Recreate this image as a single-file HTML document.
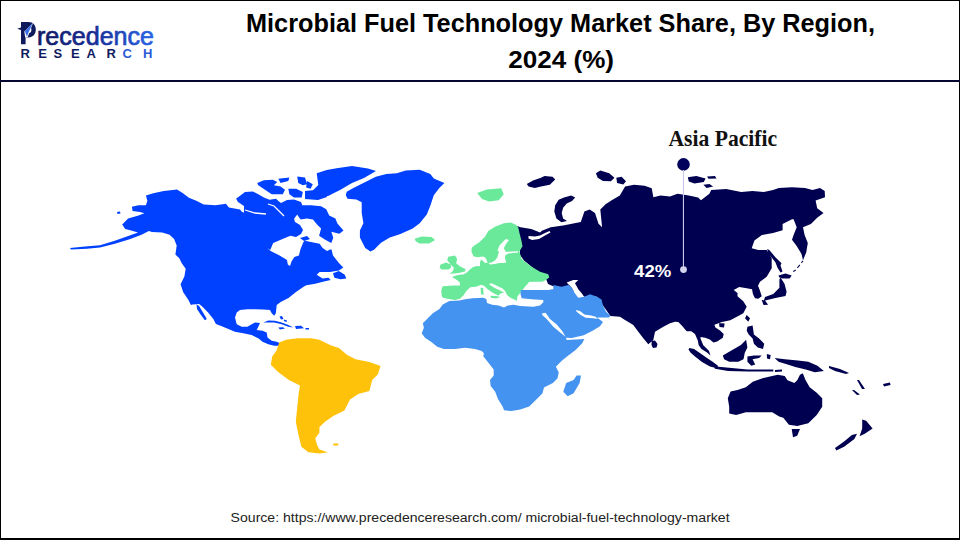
<!DOCTYPE html>
<html><head><meta charset="utf-8">
<style>
html,body{margin:0;padding:0;background:#fff;}
body{width:960px;height:540px;position:relative;overflow:hidden;font-family:"Liberation Sans",sans-serif;}
.frame{position:absolute;left:0;top:0;width:958px;height:537px;border:1px solid #000;border-bottom:2px solid #000;box-sizing:content-box;}
.hline{position:absolute;left:0;top:80px;width:960px;height:2px;background:#070632;}
svg{position:absolute;left:0;top:0;}
</style></head><body>
<div class="frame"></div>
<div class="hline"></div>
<svg width="960" height="540" viewBox="0 0 960 540" style="z-index:2">
<defs><linearGradient id="lg" x1="37" y1="0" x2="153" y2="0" gradientUnits="userSpaceOnUse"><stop offset="0" stop-color="#101a60"/><stop offset="0.45" stop-color="#142a90"/><stop offset="1" stop-color="#2a62e6"/></linearGradient></defs>
<path fill="#0f1a5c" fill-rule="evenodd" d="M21,22 H28.5 C33.5,22 35.8,25.5 35.8,29.8 C35.8,34 33,37.5 28.5,37.5 H25.6 V44.2 H21 Z M25.6,26.2 H28.3 C30.5,26.2 31.4,27.8 31.4,29.8 C31.4,31.8 30.5,33.4 28.3,33.4 H25.6 Z"/>
<path fill="#fff" d="M24.2,31 L33.2,22.6 L27.6,37.4 L25.2,37.4 Z"/>
<path fill="#0f1a5c" d="M17.2,28.7 L32.6,23.3 L24.6,31.2 Z"/>
<path fill="#3b6fe6" d="M24.8,31.2 L32.6,23.3 L26.9,36.6 Z"/>
<text x="37" y="44.6" font-family="Liberation Sans" font-size="25.5" fill="url(#lg)" stroke="url(#lg)" stroke-width="0.7" textLength="117" lengthAdjust="spacingAndGlyphs">recedence</text>
<g font-family="Liberation Sans" font-weight="bold" font-size="13" fill="#101a60">
<text x="20.6" y="58">R</text><text x="38.2" y="58">E</text><text x="53.5" y="58">S</text><text x="71.1" y="58">E</text><text x="86.5" y="58">A</text><text x="106.4" y="58">R</text><text x="122.6" y="58" fill="#2a5ad8">C</text><text x="143" y="58" fill="#2a5ad8">H</text>
</g>
<text x="246" y="31.7" font-family="Liberation Sans" font-weight="bold" font-size="26.5" fill="#000" textLength="629" lengthAdjust="spacingAndGlyphs">Microbial Fuel Technology Market Share, By Region,</text>
<text x="508.3" y="67.5" font-family="Liberation Sans" font-weight="bold" font-size="24.5" fill="#000" textLength="105.7" lengthAdjust="spacingAndGlyphs">2024 (%)</text>
<text x="230.6" y="521.7" font-family="Liberation Sans" font-size="12.5" fill="#222" textLength="499" lengthAdjust="spacingAndGlyphs">Source: https://www.precedenceresearch.com/ microbial-fuel-technology-market</text>
<text x="668.4" y="145.7" font-family="Liberation Serif" font-weight="bold" font-size="22.5" fill="#111" textLength="108.8" lengthAdjust="spacingAndGlyphs">Asia Pacific</text>
<circle cx="683.5" cy="164.4" r="6.3" fill="#02025c"/>
<rect x="682.9" y="170" width="1.1" height="99" fill="#c8c8ee"/>
<circle cx="683.5" cy="269.6" r="3.4" fill="#d4d4ee"/>
<text x="634.1" y="277.1" font-family="Liberation Sans" font-weight="bold" font-size="16.8" fill="#fff" textLength="37.2" lengthAdjust="spacingAndGlyphs">42%</text>
</svg>
<svg width="960" height="540" viewBox="0 0 960 540"><path fill="#000050" d="M517.0,226.0 520.6,227.3 531.2,229.1 540.1,232.6 541.9,230.8 550.7,227.3 563.1,225.5 572.0,223.7 580.8,222.0 584.4,211.4 589.7,209.6 595.0,213.1 598.5,223.7 602.1,227.3 600.3,209.6 605.6,204.3 610.9,200.7 619.8,195.4 625.1,186.6 634.0,184.8 644.6,185.7 651.7,188.3 653.4,197.2 660.5,195.4 670.0,196.6 677.5,193.8 688.8,195.6 698.1,197.5 701.0,200.3 709.4,193.8 711.2,190.0 726.2,189.0 741.2,191.9 752.5,191.0 763.8,191.9 773.1,190.0 778.8,188.1 791.9,187.2 805.0,188.1 812.5,190.0 820.0,188.1 824.7,191.0 825.0,197.3 815.6,200.4 817.2,208.3 823.5,213.0 817.2,217.8 810.9,224.0 803.0,227.2 804.6,235.1 807.8,242.9 806.2,252.4 803.0,260.2 801.5,253.9 796.7,246.1 792.0,239.8 793.6,235.1 796.7,227.2 793.6,219.3 792.0,219.3 782.6,224.0 782.6,230.3 773.1,233.1 761.9,235.0 754.4,240.6 751.7,248.3 758.3,250.0 766.7,250.0 771.7,258.3 771.7,268.3 766.7,276.7 760.0,281.7 758.0,285.8 759.7,290.0 761.7,296.3 758.3,298.7 755.0,298.3 753.0,294.2 752.0,289.2 746.7,288.3 739.2,287.0 733.7,290.0 737.5,293.0 737.5,296.3 743.3,301.3 746.7,306.7 743.3,313.3 738.3,316.0 730.2,320.2 721.9,322.0 714.4,324.8 715.4,327.6 720.0,330.4 723.7,334.1 722.8,337.8 717.2,341.5 713.5,342.4 709.8,339.6 705.2,337.8 700.6,336.9 700.6,338.7 703.3,345.2 708.9,350.7 710.5,355.4 707.0,352.6 701.5,348.9 698.7,345.2 697.8,340.6 695.0,334.1 691.3,331.3 686.7,331.3 682.0,325.7 678.3,322.0 675.0,321.7 670.0,323.3 663.3,326.7 655.0,331.7 653.3,340.0 648.3,344.2 643.3,338.3 638.3,331.7 633.3,325.0 625.0,320.0 620.0,316.7 610.4,315.9 603.0,305.6 597.0,296.7 583.7,296.7 570.0,289.0 555.0,287.0 548.0,284.0 545.0,276.0 537.0,271.0 531.9,267.1 524.0,260.5 520.0,255.0 520.0,245.0 518.5,233.0ZM555.2,205.2 558.7,199.8 564.0,197.5 571.1,195.4 575.2,197.5 572.0,201.1 566.7,203.4 563.1,207.8 561.7,213.1 563.1,218.4 567.0,221.1 561.4,222.3 556.4,218.4 554.3,211.4ZM526.8,183.9 533.0,180.4 541.0,177.7 544.5,175.9 552.5,176.8 555.2,179.5 549.8,184.8 541.0,186.6 534.8,188.0 528.6,186.6ZM595.9,173.3 600.3,170.6 609.2,173.3 614.5,177.7 610.9,181.3 603.0,180.9 597.7,177.7ZM616.3,177.7 621.6,176.8 626.0,181.3 623.3,184.4 617.1,183.0ZM687.8,177.3 696.3,175.9 705.6,178.4 703.8,182.1 694.4,183.4 688.8,181.6ZM707.1,176.5 715.0,176.1 716.5,178.4 708.4,178.8ZM703.4,184.8 709.4,184.0 713.1,186.6 706.6,188.1ZM793.0,271.0 795.5,269.5 796.0,270.5 793.5,272.0ZM797.0,267.5 799.5,264.5 800.3,265.3 797.8,268.3ZM801.0,262.5 802.5,260.5 803.3,261.2 801.8,263.2ZM767.2,249.1 769.3,250.1 775.4,257.2 781.5,263.3 780.5,265.4 782.5,271.5 780.5,272.5 777.4,267.4 775.4,262.3 768.2,253.1ZM778.4,275.5 785.5,273.5 791.7,275.5 789.6,278.6 782.5,278.6 779.4,277.6ZM780.5,277.6 784.5,283.7 786.6,291.8 785.5,295.9 775.4,298.0 765.2,300.5 763.5,302.0 765.0,297.0 773.3,293.9 779.4,287.8 779.4,279.6ZM761.7,300.0 765.0,300.5 768.1,304.8 763.5,305.0ZM746.7,315.0 750.0,318.3 748.3,321.7 745.0,318.3ZM719.0,323.0 724.6,323.5 724.0,327.6 719.5,327.0ZM651.7,341.0 655.0,340.5 657.5,344.0 656.5,347.5 653.0,348.0 651.5,345.0ZM689.4,348.0 694.0,348.9 700.6,353.5 707.0,358.1 713.0,362.0 718.3,366.0 716.0,368.0 710.0,366.5 702.0,362.0 695.0,356.5 690.5,352.5 688.5,349.5ZM713.3,366.2 734.4,368.3 747.4,369.6 773.3,369.6 773.3,371.6 747.4,371.6 728.0,370.9 715.0,368.8ZM722.8,355.4 731.8,350.2 740.9,345.0 746.1,339.8 747.4,347.6 744.8,352.8 743.5,359.2 738.3,361.8 729.3,361.8 724.1,359.2ZM747.4,356.6 753.9,355.4 761.7,355.4 759.1,357.9 752.6,359.2 755.2,364.4 751.3,365.7 747.4,361.8ZM766.8,354.1 770.7,355.0 770.0,359.2 767.0,358.5ZM747.4,326.8 752.6,325.5 753.9,334.6 759.1,338.5 764.2,343.7 763.0,348.9 757.8,347.6 753.9,343.7 752.6,338.5 748.7,334.6 746.7,330.7ZM775.0,370.0 782.0,369.5 782.0,371.5 775.0,372.0ZM774.6,357.9 785.0,359.2 797.9,360.5 808.3,361.8 817.4,365.7 823.9,370.9 814.8,372.2 805.7,369.6 795.3,367.0 787.6,364.4 778.5,361.8ZM727.8,398.3 730.6,391.4 737.5,390.0 745.8,387.2 752.8,381.7 762.5,378.2 772.2,376.1 777.8,374.7 784.7,376.1 787.5,380.3 794.4,383.1 797.2,380.3 800.0,374.7 802.8,373.3 805.6,380.3 809.7,387.2 816.7,392.8 822.2,398.3 822.2,406.7 816.7,415.0 808.3,423.3 797.2,426.1 788.9,424.7 783.3,417.8 779.2,416.4 772.2,412.2 759.7,412.2 745.8,412.2 736.1,415.0 729.2,413.6 729.2,406.7ZM791.7,428.9 800.0,428.9 797.2,435.8 793.0,437.2ZM862.2,419.4 866.1,420.7 872.6,428.5 864.8,433.7 859.6,436.3 862.2,428.5ZM857.0,433.7 854.4,438.9 844.1,446.7 836.3,450.6 835.0,448.0 844.1,441.5 851.9,435.0ZM829.0,366.0 840.0,369.0 849.0,373.0 846.0,374.0 835.0,371.0 829.0,368.0ZM857.0,380.0 859.0,380.0 865.0,389.0 862.0,389.0ZM852.0,390.0 854.0,390.0 860.0,394.5 857.0,395.0ZM883.0,384.0 890.0,382.5 890.5,385.0 884.0,386.5Z"/><path fill="#0040ff" d="M70.0,248.0 85.0,246.5 100.0,245.2 114.8,240.7 129.6,235.6 138.0,232.5 131.1,230.4 125.2,228.9 122.2,224.4 128.1,218.5 138.5,215.6 144.4,213.3 140.0,211.9 132.6,211.1 131.9,206.7 138.5,205.2 145.9,205.2 147.4,200.7 145.9,195.6 153.3,193.3 163.7,191.1 177.0,189.6 183.0,193.3 188.9,197.8 196.3,200.7 203.7,204.4 215.6,205.2 225.9,203.7 228.9,207.4 240.0,209.6 242.0,212.0 252.0,215.0 265.0,219.0 276.0,220.0 283.0,219.0 289.0,216.0 290.0,210.0 295.0,204.0 298.0,209.0 293.0,215.0 295.0,222.0 300.0,225.0 303.0,230.0 301.0,234.0 296.0,237.0 290.5,235.7 285.5,237.8 273.2,242.9 270.2,250.0 267.0,248.1 270.7,251.1 279.6,255.6 287.0,260.0 287.8,264.4 290.0,265.9 291.5,261.5 294.4,257.0 298.9,255.6 300.4,249.6 303.3,242.2 304.8,240.7 312.2,242.2 319.6,243.7 322.6,248.1 327.0,251.1 330.0,249.6 331.5,249.6 333.0,255.6 338.9,263.0 343.3,267.4 338.9,270.4 330.0,271.9 319.6,271.9 316.7,274.8 322.6,278.5 328.5,277.8 330.7,280.0 324.0,281.5 315.2,283.7 306.3,285.2 304.0,286.5 296.3,291.7 288.5,298.1 280.7,302.0 276.7,305.0 276.3,309.0 275.8,313.3 274.2,315.8 271.7,313.3 270.0,310.0 263.3,309.6 255.8,309.2 247.5,309.2 240.0,310.0 236.7,312.5 235.0,317.5 236.7,324.2 241.7,326.7 247.5,326.7 251.7,324.2 255.0,322.5 260.0,322.9 258.3,326.7 256.7,330.0 262.5,330.8 266.7,332.5 267.5,337.5 271.7,340.8 276.7,341.7 280.0,343.3 282.0,344.0 279.2,345.8 274.2,345.8 268.3,344.2 262.5,341.7 258.3,338.3 251.7,335.0 243.3,333.3 235.0,331.7 222.4,326.6 215.9,324.1 213.3,318.9 208.1,312.4 201.7,305.9 199.0,304.0 192.6,304.6 190.9,305.0 188.3,299.8 183.1,292.0 180.6,284.3 184.4,276.5 185.7,268.7 181.9,263.5 179.3,258.3 175.4,254.4 176.7,245.4 174.1,238.9 169.6,234.8 162.2,232.6 151.9,231.9 148.9,231.1 141.5,234.8 129.6,239.3 114.8,243.7 100.0,247.4 87.0,248.8 71.0,249.5ZM196.5,304.6 199.1,305.9 203.0,312.4 206.8,318.9 204.9,320.2 201.0,315.0 197.1,309.2ZM346.7,191.7 352.9,188.2 363.4,182.9 375.8,176.7 386.3,174.1 396.9,173.2 405.7,170.6 419.7,169.7 430.3,174.1 433.8,178.5 444.4,182.9 439.1,188.2 433.8,195.2 430.3,205.8 426.8,214.5 419.7,223.3 412.7,228.6 400.4,233.9 389.8,237.4 381.0,242.7 374.0,249.7 370.5,251.5 365.2,248.0 359.9,237.4 359.9,230.4 363.4,223.3 361.7,212.8 361.7,202.2 356.4,199.6 347.6,198.7 345.8,195.2ZM236.1,198.7 245.0,192.0 252.8,191.4 258.3,194.2 263.9,197.6 269.4,199.8 276.1,198.7 278.3,200.9 281.0,203.0 287.0,200.0 294.0,199.5 301.0,202.0 303.0,207.0 300.0,212.0 296.0,216.0 292.0,222.0 283.0,222.0 275.0,221.0 266.0,219.0 258.0,218.0 247.0,218.0 244.0,212.0 244.0,206.0 238.0,202.0ZM257.2,183.1 263.9,180.3 272.8,179.8 277.2,182.0 273.9,185.3 280.6,186.4 285.0,189.8 282.8,194.2 271.7,194.2 265.0,189.8 258.3,185.3ZM278.3,178.7 289.4,177.6 288.3,180.9 280.6,183.1ZM288.3,188.7 296.1,188.7 302.8,192.0 301.7,197.6 293.9,197.6 289.4,194.2ZM297.2,176.4 305.0,177.6 307.2,184.2 302.8,185.3 298.3,183.1ZM307.2,180.9 312.8,184.2 310.6,188.7 306.1,187.6ZM305.0,191.0 315.0,190.0 325.0,191.0 327.0,197.0 318.0,200.0 305.0,199.0ZM316.7,173.3 326.7,170.0 336.7,168.3 352.0,166.0 368.0,168.5 376.0,171.0 364.0,178.0 352.0,183.0 340.0,190.0 328.0,196.0 313.3,198.3 306.7,195.0 313.3,190.0 318.3,185.0ZM297.7,208.2 302.8,205.2 310.9,205.2 321.1,206.2 326.2,209.3 329.2,215.4 335.4,218.4 337.4,223.5 343.5,230.6 339.4,233.7 331.3,231.7 333.3,237.8 331.3,242.9 325.2,239.8 319.1,235.7 321.1,228.6 317.0,224.5 313.0,219.4 306.8,218.4 300.7,219.4 297.7,215.4ZM300.0,238.0 307.0,236.0 310.0,239.0 304.0,241.0ZM333.0,273.3 338.9,271.1 344.8,274.8 346.3,278.5 340.4,279.3 334.4,277.8ZM279.5,316.5 282.0,316.0 283.5,319.0 281.0,319.5ZM284.0,319.5 287.0,320.5 286.5,322.0 283.8,321.0ZM263.3,322.5 268.3,320.4 275.0,320.8 281.7,322.5 288.3,325.0 293.3,327.5 288.3,326.7 281.7,324.2 274.2,322.5 268.3,322.5ZM295.0,326.0 301.0,325.8 304.0,328.3 296.0,329.0ZM278.3,327.5 283.0,327.3 285.0,328.6 280.0,329.5ZM305.5,328.0 309.0,328.0 309.0,329.5 305.5,329.5ZM117.0,212.0 120.0,211.5 120.5,213.5 117.5,214.0Z"/><path fill="#ffc20a" d="M279.2,342.5 286.1,339.7 297.2,338.3 311.1,338.3 319.4,339.7 330.6,345.3 338.9,348.1 347.2,355.0 355.6,359.2 369.4,361.9 380.6,366.1 377.8,374.4 372.2,380.0 369.4,391.1 358.3,393.9 350.0,399.4 344.4,410.6 333.3,416.1 325.0,421.7 319.4,427.2 319.4,432.8 315.3,438.3 316.7,443.9 319.4,449.4 327.8,452.2 319.4,453.6 308.3,452.2 301.4,446.7 298.6,435.6 295.8,421.7 297.2,407.8 298.6,393.9 300.0,385.6 288.9,380.0 277.8,371.7 270.8,364.7 272.2,356.4 276.4,350.8ZM333.0,443.5 338.5,443.5 338.0,445.5 333.5,445.5Z"/><path fill="#6be99b" d="M488.3,231.1 495.0,226.7 503.9,223.3 511.0,222.5 516.2,224.9 518.3,227.5 519.4,232.7 521.5,241.0 522.5,246.2 519.4,251.5 521.5,258.8 526.7,262.9 531.9,267.1 534.2,268.3 540.0,271.7 548.3,274.2 549.2,277.5 545.8,280.0 542.5,281.7 531.7,281.7 525.8,285.8 522.5,290.0 520.0,293.3 517.5,296.2 516.8,300.9 514.3,299.6 510.4,297.7 507.1,295.1 505.2,291.2 502.6,288.6 497.4,286.0 492.2,283.4 489.6,283.4 489.6,284.7 494.8,288.0 500.0,290.6 503.9,292.5 500.0,293.8 498.7,295.7 496.1,294.4 492.2,292.5 487.7,289.3 484.4,286.0 481.2,284.7 476.0,286.7 470.2,287.3 466.2,291.2 463.8,295.0 460.0,298.8 455.0,300.0 447.5,298.8 442.5,297.5 441.9,296.2 441.2,291.2 442.5,286.2 453.8,285.6 460.0,285.5 459.9,282.8 457.6,280.5 452.5,277.3 452.5,276.8 456.2,275.4 459.4,274.8 463.1,274.4 466.9,272.6 470.1,269.3 473.3,266.9 477.0,265.9 480.0,266.2 480.0,262.5 481.0,259.5 483.0,261.0 485.0,263.0 487.8,262.4 486.0,259.0 484.8,257.2 482.6,256.5 478.1,257.2 473.7,256.5 471.5,252.0 471.7,247.8 475.0,245.0 479.4,242.2 485.0,236.7ZM448.3,256.7 455.0,255.6 457.2,258.9 456.1,263.3 460.6,266.7 465.5,269.0 465.0,271.5 458.5,272.9 453.9,273.4 449.7,273.8 453.0,271.0 453.9,267.8 450.6,264.4 447.2,260.0ZM440.6,264.6 446.1,262.6 450.6,264.6 451.2,267.8 448.3,269.5 441.7,269.5 439.6,267.8ZM414.6,238.8 421.8,236.4 431.5,237.1 435.1,240.0 429.1,243.6 419.4,243.6 415.8,241.2ZM477.2,193.0 486.8,189.4 501.2,188.2 503.7,194.2 498.8,200.3 489.2,201.5 482.0,199.1ZM480.6,288.0 483.0,287.8 483.8,294.4 481.0,294.4ZM490.3,295.7 496.0,296.0 500.6,297.0 496.0,298.5 491.0,297.7Z"/><path fill="#4593f0" d="M449.4,301.1 459.4,300.6 465.0,299.3 472.8,298.3 483.1,297.7 486.4,299.0 487.0,302.9 492.2,304.8 498.7,305.5 503.9,307.4 507.8,305.5 513.6,304.8 520.1,306.1 533.3,306.7 540.0,305.6 543.3,302.2 543.3,300.0 531.7,299.2 521.7,298.3 520.5,294.0 520.8,290.0 531.7,290.0 542.5,290.0 553.3,289.2 553.3,285.0 561.7,286.7 568.3,285.0 571.7,287.5 575.0,293.3 578.3,297.5 584.2,296.7 590.0,294.2 597.0,296.7 601.5,299.6 603.0,305.6 605.9,311.5 610.4,315.9 608.9,317.4 600.0,317.4 597.0,317.4 603.0,321.9 600.0,326.3 592.6,330.7 583.7,335.2 571.9,338.1 565.9,337.8 566.7,340.0 575.6,339.4 584.4,338.9 582.2,343.3 575.6,350.0 566.7,356.7 561.8,360.7 555.9,366.7 558.8,372.6 557.4,378.5 552.9,382.9 544.0,387.4 542.5,393.3 536.6,399.2 529.2,406.6 520.3,409.6 511.5,411.1 504.1,410.3 502.6,406.6 498.1,399.2 495.2,391.8 490.7,385.9 490.0,380.0 493.7,375.5 493.7,369.6 489.2,363.7 483.3,356.3 483.9,353.3 481.7,351.1 475.0,348.9 465.0,347.8 455.0,348.9 443.9,348.9 437.2,346.7 431.7,342.2 425.0,337.8 421.7,333.3 423.9,327.8 422.8,323.3 428.3,317.8 432.8,313.3 439.4,308.9 442.8,304.4ZM576.6,375.5 581.0,375.5 579.6,382.9 573.6,393.3 567.7,396.3 563.3,391.8 566.2,382.9 573.6,380.0Z"/><path fill="#fff" d="M505.8,239.0 509.0,240.0 505.8,244.2 503.8,248.3 505.8,251.8 513.0,251.5 518.1,251.3 518.1,252.5 513.0,253.0 508.5,253.5 505.6,255.0 504.8,258.0 505.6,260.2 506.3,262.4 504.1,263.1 499.6,263.1 494.4,263.9 490.0,264.6 488.5,263.1 491.5,262.4 495.2,260.2 497.4,257.2 498.1,254.3 499.2,252.0 497.5,250.4 499.6,245.2 503.8,241.0ZM528.5,236.0 535.0,236.5 540.0,235.5 545.0,233.0 549.5,231.0 550.5,232.5 545.0,235.5 539.0,239.0 532.0,240.0 528.5,238.5ZM525.0,287.5 529.2,281.7 534.2,282.5 541.7,284.2 548.3,285.8 553.3,288.3 548.3,290.0 540.0,289.2 531.7,289.2 525.8,289.2ZM566.7,282.5 573.3,280.0 578.3,280.0 575.0,283.3 578.3,289.2 581.7,293.3 584.2,296.7 578.3,297.5 575.0,293.3 571.7,287.5 568.3,284.2ZM542.2,313.3 545.6,312.8 550.0,318.9 556.7,324.4 562.2,331.1 565.6,336.7 561.1,333.3 553.3,326.7 546.7,318.9 542.2,315.0ZM575.6,310.0 580.0,311.1 584.4,314.4 591.1,315.6 595.6,316.7 597.8,318.9 593.3,318.3 585.6,317.8 580.0,314.4 576.7,311.7Z"/><path fill="none" stroke="#fff" stroke-width="1.3" d="M245.0,210.0 255.0,213.0 266.0,214.0M268.0,204.0 274.0,206.0 280.0,212.0 284.0,216.0"/></svg></body></html>
